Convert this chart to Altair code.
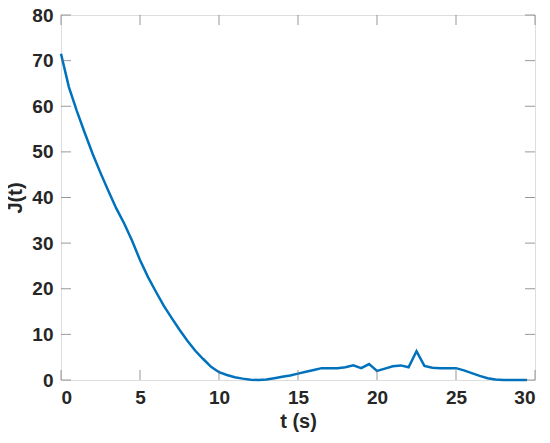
import altair as alt
import pandas as pd

t_values = [i * 0.5 for i in range(60)]
j_values = [71.5, 64.2, 59.0, 54.2, 49.6, 45.4, 41.4, 37.6, 34.3, 30.5,
            26.3, 22.6, 19.4, 16.3, 13.6, 11.0, 8.6, 6.4, 4.6, 2.9,
            1.7, 1.1, 0.6, 0.3, 0.05, 0.0, 0.1, 0.4, 0.7, 1.0,
            1.4, 1.8, 2.2, 2.6, 2.6, 2.6, 2.8, 3.2, 2.6, 3.5,
            2.0, 2.5, 3.0, 3.2, 2.8, 6.3, 3.1, 2.7, 2.6, 2.6,
            2.6, 2.1, 1.5, 0.9, 0.4, 0.1, 0.0, 0.0, 0.0, 0.0]
x_ticks = [0, 5, 10, 15, 20, 25, 30]
y_ticks = [0, 10, 20, 30, 40, 50, 60, 70, 80]

df = pd.DataFrame({"t": t_values, "J": j_values})
xt = pd.DataFrame({"x": x_ticks})
yt = pd.DataFrame({"y": y_ticks})

FONT = "Liberation Sans"
AX = "#6e6e6e"
xscale = alt.Scale(domain=[0, 30], nice=False, zero=False)
yscale = alt.Scale(domain=[0, 80], nice=False)

line = alt.Chart(df).mark_line(color="#0072BD", strokeWidth=2.5).encode(
    x=alt.X("t:Q", scale=xscale, title="t (s)",
            axis=alt.Axis(values=x_ticks, grid=False, domain=False, ticks=False,
                          labelPadding=8, labelFontSize=19, labelFontWeight="bold",
                          labelFont=FONT, labelColor="#262626",
                          titleFontSize=20, titleFontWeight="bold", titleFont=FONT,
                          titleColor="#262626", titlePadding=4)),
    y=alt.Y("J:Q", scale=yscale, title="J(t)",
            axis=alt.Axis(values=y_ticks, grid=False, domain=False, ticks=False,
                          labelPadding=8, labelFontSize=19, labelFontWeight="bold",
                          labelFont=FONT, labelColor="#262626",
                          titleFontSize=20, titleFontWeight="bold", titleFont=FONT,
                          titleColor="#262626", titlePadding=6)),
)

tick_bottom = alt.Chart(xt).mark_tick(orient="vertical", size=10, color=AX, thickness=1, yOffset=-5).encode(
    x=alt.X("x:Q", scale=xscale), y=alt.value(365))
tick_top = alt.Chart(xt).mark_tick(orient="vertical", size=10, color=AX, thickness=1, yOffset=5).encode(
    x=alt.X("x:Q", scale=xscale), y=alt.value(0))
tick_left = alt.Chart(yt).mark_tick(orient="horizontal", size=10, color=AX, thickness=1, xOffset=5).encode(
    y=alt.Y("y:Q", scale=yscale), x=alt.value(0))
tick_right = alt.Chart(yt).mark_tick(orient="horizontal", size=10, color=AX, thickness=1, xOffset=-5).encode(
    y=alt.Y("y:Q", scale=yscale), x=alt.value(474))

chart = alt.layer(line, tick_bottom, tick_top, tick_left, tick_right).properties(
    width=474, height=365,
    autosize=alt.AutoSizeParams(type="none"),
    padding={"left": 53, "top": 7, "right": 6, "bottom": 54},
).configure_view(stroke=AX, strokeWidth=1).configure(background="white")

chart.save("out.html", embed_options={"renderer": "svg", "actions": False})
